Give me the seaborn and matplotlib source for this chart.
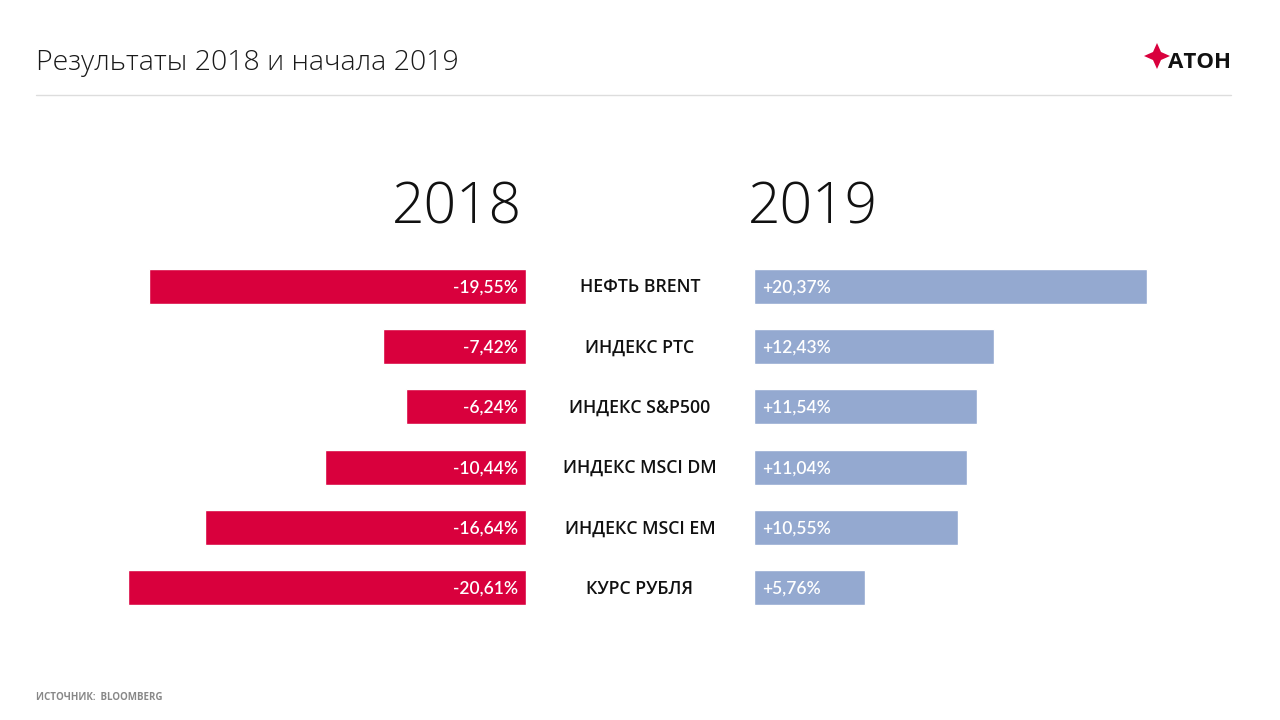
import seaborn as sns
import matplotlib.pyplot as plt
import pandas as pd
from matplotlib.patches import Polygon

categories = ['НЕФТЬ BRENT', 'ИНДЕКС РТС', 'ИНДЕКС S&P500',
              'ИНДЕКС MSCI DM', 'ИНДЕКС MSCI EM', 'КУРС РУБЛЯ']
values_2018 = [-19.55, -7.42, -6.24, -10.44, -16.64, -20.61]
values_2019 = [20.37, 12.43, 11.54, 11.04, 10.55, 5.76]
years = ['2018', '2019']

RED = '#D9003D'
BLUE = '#94A9D0'

sns.set_theme(style='white')
plt.rcParams['font.family'] = ['Lato', 'DejaVu Sans']
OPEN = ['Open Sans', 'DejaVu Sans']

df = pd.DataFrame({'cat': categories, 'y2018': values_2018, 'y2019': values_2019})

W, H = 1280, 720
fig = plt.figure(figsize=(12.8, 7.2), dpi=100)

# px per percentage point ~19.3, axes span 22 units each side
span = 22
scale = 19.3
top_px, bot_px = 256, 618
left_ax = fig.add_axes([(526 - span * scale) / W, 1 - bot_px / H,
                        span * scale / W, (bot_px - top_px) / H])
right_ax = fig.add_axes([754 / W, 1 - bot_px / H,
                         span * scale / W, (bot_px - top_px) / H])

sns.barplot(data=df, x='y2018', y='cat', orient='h', color=RED, width=0.58,
            saturation=1, ax=left_ax)
sns.barplot(data=df, x='y2019', y='cat', orient='h', color=BLUE, width=0.58,
            saturation=1, ax=right_ax)

left_ax.set_xlim(-span, 0)
right_ax.set_xlim(0, span)
for ax in (left_ax, right_ax):
    ax.set_ylim(len(categories) - 0.5, -0.5)
    ax.axis('off')

for i, v in enumerate(values_2018):
    left_ax.text(-0.4, i + 0.02, f'{v:.2f}%'.replace('.', ','), ha='right', va='center',
                 color='white', fontsize=12.5, fontweight='semibold')
for i, v in enumerate(values_2019):
    right_ax.text(0.4, i + 0.02, f'+{v:.2f}%'.replace('.', ','), ha='left', va='center',
                  color='white', fontsize=12.5, fontweight='semibold')
    fig.text(640 / W, 1 - (287 + i * 60.4) / H, categories[i], ha='center', va='center',
             fontsize=12.8, fontweight='semibold', color='#111111', family=OPEN)

fig.text(522 / W, 1 - 209 / H, years[0], ha='right', va='center', fontsize=41,
         fontweight='light', color='#111111', family=OPEN)
fig.text(748 / W, 1 - 209 / H, years[1], ha='left', va='center', fontsize=41,
         fontweight='light', color='#111111', family=OPEN)

# header
fig.text(36 / W, 1 - 63 / H, 'Результаты 2018 и начала 2019', ha='left', va='center',
         fontsize=20.5, fontweight='light', color='#1a1a1a', family=OPEN)
fig.add_artist(plt.Line2D([36 / W, 1231 / W], [1 - 95 / H, 1 - 95 / H],
                          color='#DDDDDD', lw=1))

# logo
cx, cy = 1157, 56
pts = [(cx, cy - 13), (cx + 4, cy - 4), (cx + 13, cy), (cx + 4, cy + 4),
       (cx, cy + 13), (cx - 4, cy + 4), (cx - 13, cy), (cx - 4, cy - 4)]
fig.add_artist(Polygon([(x / W, 1 - y / H) for x, y in pts], closed=True,
                       transform=fig.transFigure, color=RED, lw=0))
fig.text(1231 / W, 1 - 62 / H, 'АТОН', ha='right', va='center', fontsize=16,
         fontweight='bold', color='#111111', family=OPEN)

# footer
fig.text(36 / W, 1 - 698 / H, 'ИСТОЧНИК:  BLOOMBERG', ha='left', va='center',
         fontsize=7, fontweight='bold', color='#888888', family=OPEN)

fig.savefig('out.png', dpi=100)
